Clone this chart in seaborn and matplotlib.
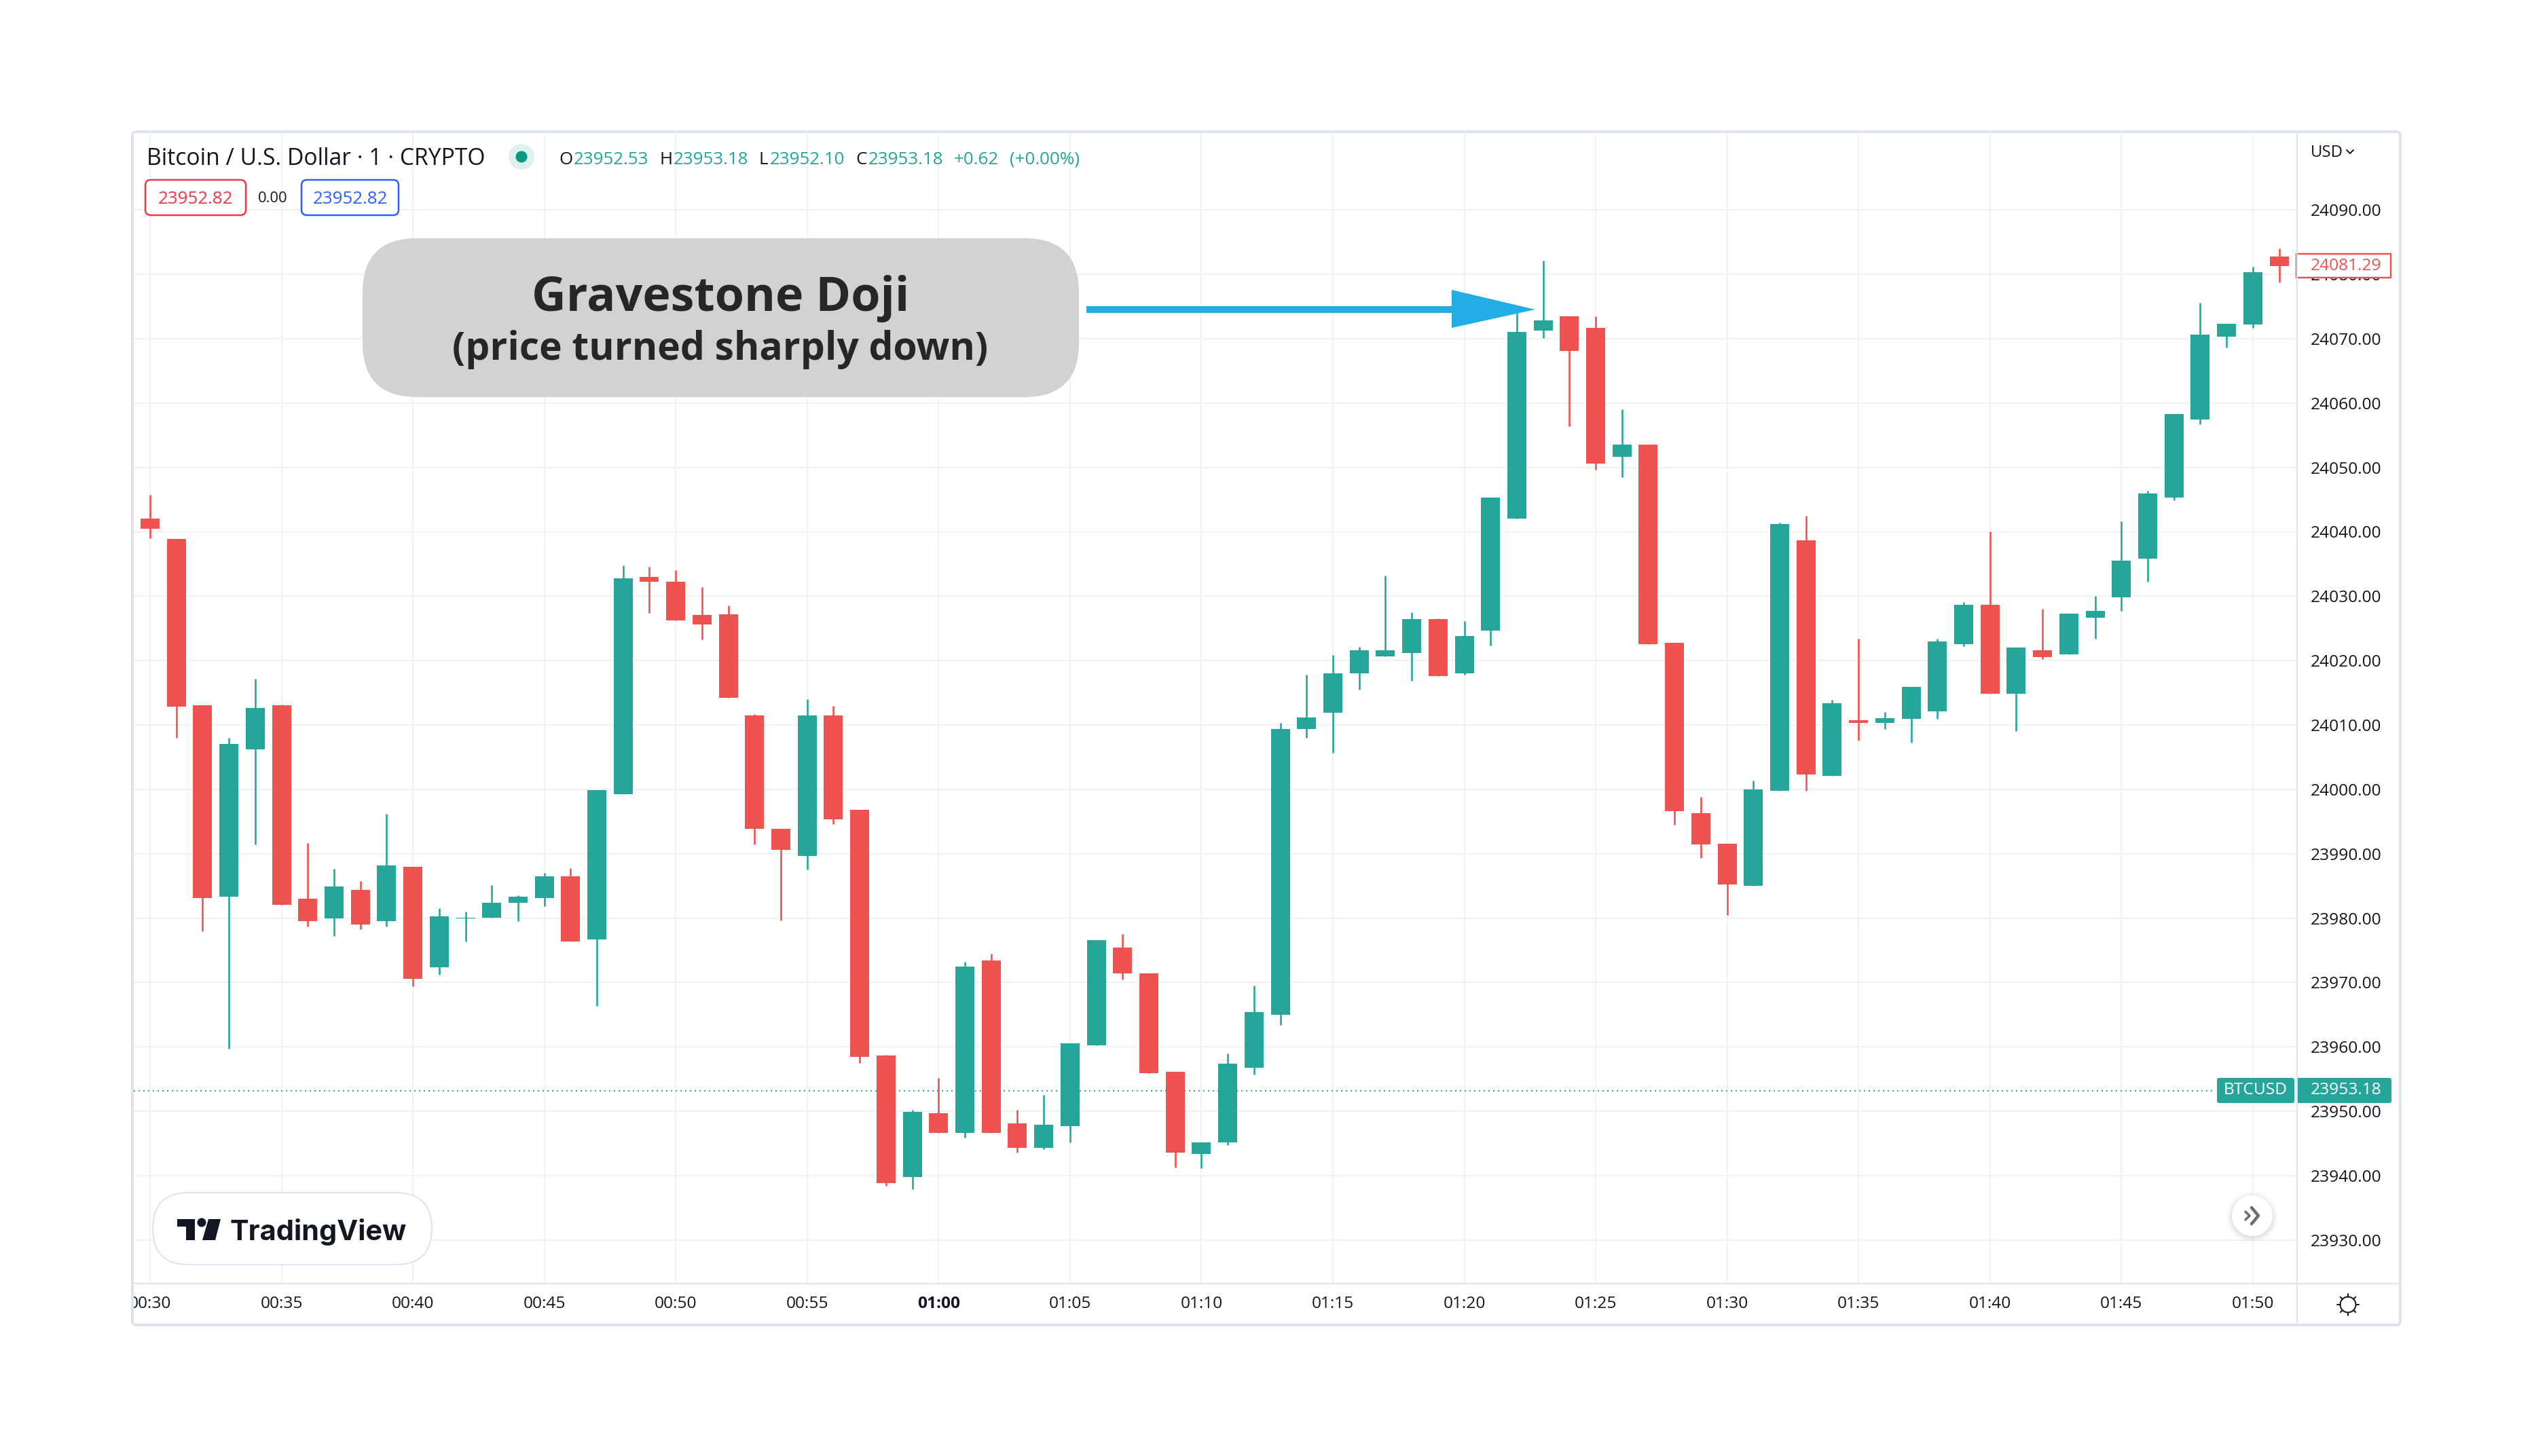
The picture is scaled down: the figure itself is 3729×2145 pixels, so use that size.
"""
Bitcoin 1 minute candlesticks with a Gravestone Doji callout, TradingView look.
"""

import matplotlib
matplotlib.use("Agg")

import matplotlib.pyplot as plt
import numpy as np
import pandas as pd
import seaborn as sns
from matplotlib.patches import Circle, FancyBboxPatch, Polygon, Rectangle
from matplotlib.transforms import ScaledTranslation

WIDTH, HEIGHT = 3729, 2145
GREEN = "#26a69a"
RED = "#ef5350"
INK = "#131722"
PT = 0.72  # one output pixel in points at dpi 100

opens = [
    24042.05, 24038.9, 24013.05, 23983.3, 24006.2, 24013.05, 23983.0, 23979.9, 23984.4, 23979.5,
    23988.0, 23972.4, 23979.9, 23980.1, 23982.4, 23983.1, 23986.5, 23976.7, 23999.2, 24033.0,
    24032.3, 24027.1, 24027.2, 24011.5, 23993.9, 23989.6, 24011.5, 23996.8, 23958.6, 23939.8,
    23949.7, 23946.6, 23973.4, 23948.1, 23944.3, 23947.7, 23960.2, 23975.4, 23971.4, 23956.1,
    23943.4, 23945.2, 23956.8, 23965.0, 24009.4, 24011.9, 24018.0, 24020.6, 24021.2, 24026.4,
    24018.0, 24024.7, 24042.1, 24071.3, 24073.5, 24071.7, 24051.7, 24053.5, 24022.8, 23996.3,
    23991.6, 23985.0, 23999.8, 24038.7, 24002.1, 24010.7, 24010.3, 24010.9, 24012.1, 24022.6,
    24028.7, 24014.8, 24021.6, 24021.0, 24026.7, 24029.8, 24035.8, 24045.3, 24057.4, 24070.3,
    24072.2, 24082.8,
]
highs = [
    24045.7, 24038.9, 24013.05, 24008.0, 24017.2, 24013.2, 23991.7, 23987.6, 23985.7, 23996.2,
    23988.0, 23981.5, 23981.0, 23985.1, 23983.5, 23987.0, 23987.8, 23999.9, 24034.8, 24034.6,
    24034.0, 24031.4, 24028.6, 24011.7, 23993.9, 24014.0, 24013.0, 23996.8, 23958.8, 23950.2,
    23955.2, 23973.2, 23974.5, 23950.2, 23952.5, 23960.6, 23976.6, 23977.5, 23971.4, 23956.1,
    23945.2, 23959.0, 23969.5, 24010.3, 24017.8, 24020.9, 24022.1, 24033.2, 24027.5, 24026.6,
    24026.1, 24045.3, 24074.0, 24082.15, 24073.5, 24073.5, 24059.0, 24053.5, 24022.8, 23998.8,
    23991.6, 24001.4, 24041.4, 24042.5, 24013.9, 24023.4, 24012.0, 24015.9, 24023.4, 24029.1,
    24040.1, 24022.0, 24028.0, 24027.3, 24030.0, 24041.6, 24046.4, 24058.3, 24075.6, 24072.3,
    24081.2, 24084.0,
]
lows = [
    24039.0, 24008.0, 23978.0, 23959.7, 23991.4, 23982.1, 23978.7, 23977.2, 23978.3, 23978.7,
    23969.4, 23971.2, 23976.4, 23980.1, 23979.5, 23981.9, 23976.4, 23966.3, 23999.2, 24027.4,
    24026.2, 24023.3, 24014.2, 23991.4, 23979.6, 23987.5, 23994.6, 23957.5, 23938.4, 23937.9,
    23946.6, 23945.9, 23946.6, 23943.6, 23944.1, 23945.2, 23960.2, 23970.5, 23955.9, 23941.3,
    23941.1, 23944.7, 23955.7, 23963.4, 24008.0, 24005.7, 24015.5, 24020.6, 24016.9, 24017.6,
    24017.8, 24022.3, 24042.1, 24070.1, 24056.4, 24049.6, 24048.5, 24022.6, 23994.5, 23989.3,
    23980.5, 23985.0, 23999.8, 23999.8, 24002.1, 24007.6, 24009.4, 24007.3, 24010.9, 24022.2,
    24014.8, 24009.1, 24020.2, 24021.0, 24023.4, 24027.7, 24032.3, 24044.9, 24056.7, 24068.6,
    24071.7, 24078.8,
]
closes = [
    24040.5, 24012.8, 23983.1, 24007.1, 24012.6, 23982.1, 23979.5, 23984.9, 23979.0, 23988.2,
    23970.6, 23980.3, 23980.1, 23982.4, 23983.3, 23986.5, 23976.4, 23999.9, 24032.75, 24032.3,
    24026.2, 24025.6, 24014.2, 23993.9, 23990.6, 24011.5, 23995.3, 23958.4, 23938.8, 23949.9,
    23946.6, 23972.5, 23946.6, 23944.3, 23947.9, 23960.6, 23976.6, 23971.4, 23955.9, 23943.6,
    23945.2, 23957.4, 23965.4, 24009.4, 24011.2, 24018.0, 24021.6, 24021.6, 24026.4, 24017.6,
    24023.8, 24045.3, 24071.0, 24072.8, 24068.1, 24050.6, 24053.5, 24022.6, 23996.6, 23991.4,
    23985.2, 24000.0, 24041.2, 24002.3, 24013.4, 24010.3, 24011.1, 24015.9, 24023.0, 24028.7,
    24014.8, 24022.0, 24020.5, 24027.3, 24027.7, 24035.5, 24046.0, 24058.3, 24070.6, 24072.3,
    24080.3, 24081.3,
]

time_ticks = list(range(0, 85, 5))
time_labels = [
    "00:30", "00:35", "00:40", "00:45", "00:50", "00:55", "01:00", "01:05", "01:10",
    "01:15", "01:20", "01:25", "01:30", "01:35", "01:40", "01:45", "01:50",
]
price_ticks = list(range(23930, 24100, 10))
last_price = 23953.18

sns.set_theme(style="white")
plt.rcParams["font.family"] = ["Open Sans", "DejaVu Sans"]


def build_frames():
    df = pd.DataFrame({"candle": range(len(opens)), "open": opens, "high": highs,
                       "low": lows, "close": closes})
    df["direction"] = np.where(df["close"] >= df["open"], "up", "down")
    wicks = df.melt(id_vars=["candle", "direction"], value_vars=["high", "low"], value_name="price")
    bodies = df.melt(id_vars=["candle", "direction"], value_vars=["open", "close"], value_name="price")
    return wicks, bodies


def draw_chart(fig):
    left, right, top, bottom = 197, 3383, 197, 1891
    ax = fig.add_axes([left / WIDTH, 1 - bottom / HEIGHT, (right - left) / WIDTH, (bottom - top) / HEIGHT])
    wicks, bodies = build_frames()
    palette = {"up": GREEN, "down": RED}
    ax.axhline(last_price, xmax=(3262 - left) / (right - left), color=GREEN, lw=2 * PT,
               ls=(0, (1, 2.5)), zorder=1.5)
    sns.lineplot(data=wicks, x="candle", y="price", units="candle", hue="direction", palette=palette,
                 estimator=None, legend=False, linewidth=2.6 * PT, solid_capstyle="butt", ax=ax, zorder=3)
    sns.lineplot(data=bodies, x="candle", y="price", units="candle", hue="direction", palette=palette,
                 estimator=None, legend=False, linewidth=28 * PT, solid_capstyle="butt", ax=ax, zorder=4)
    ax.set_xlim((left - 221) / 38.71, (right - 221) / 38.71)
    ax.set_ylim(24090 - (bottom - 309.3) / 9.484, 24090 + (309.3 - top) / 9.484)
    ax.set_xlabel("")
    ax.set_ylabel("")
    ax.yaxis.tick_right()
    ax.set_yticks(price_ticks)
    ax.set_yticklabels([f"{p}.00" for p in price_ticks], fontsize=24.5 * PT, color=INK)
    # price labels sit about 2 px above their grid lines
    lift = ScaledTranslation(0, 2 / 100, fig.dpi_scale_trans)
    for lab in ax.get_yticklabels():
        lab.set_transform(lab.get_transform() + lift)
    ax.set_xticks(time_ticks)
    ax.set_xticklabels(time_labels, fontsize=24.5 * PT, color=INK)
    ax.get_xticklabels()[6].set_fontweight("bold")
    ax.tick_params(axis="y", length=0, pad=20 * PT)
    ax.tick_params(axis="x", length=0, pad=18 * PT)
    ax.grid(True, color="#f0f2f5", linewidth=2 * PT)
    ax.set_axisbelow(True)
    sns.despine(ax=ax, left=True, bottom=True)
    return ax


def draw_header(ov):
    ov.text(216, 234, "Bitcoin / U.S. Dollar · 1 · CRYPTO", fontsize=33.7 * PT, color=INK, va="center")
    ov.add_patch(Circle((768, 231), 19, color="#dff0ee", lw=0))
    ov.add_patch(Circle((768, 231), 8.5, color="#089981", lw=0))
    for x, s, c in [(823, "O", INK), (845, "23952.53", GREEN), (972, "H", INK), (992, "23953.18", GREEN),
                    (1118, "L", INK), (1134, "23952.10", GREEN), (1260, "C", INK), (1279, "23953.18", GREEN),
                    (1405, "+0.62", GREEN), (1487, "(+0.00%)", GREEN)]:
        ov.text(x, 235, s, fontsize=26 * PT, color=c, va="center", fontweight="medium")
    for x0, x1, c in [(214, 362, "#f23645"), (444, 587, "#2962ff")]:
        ov.add_patch(FancyBboxPatch((x0 + 5, 270), x1 - x0 - 10, 42, boxstyle="round,pad=5,rounding_size=8",
                                    fc="white", ec=c, lw=2.5 * PT))
        ov.text((x0 + x1) / 2, 293, "23952.82", fontsize=26 * PT, color=c, ha="center", va="center")
    ov.text(401.5, 293, "0.00", fontsize=22 * PT, color=INK, ha="center", va="center")


def draw_callout(ov):
    ov.add_patch(FancyBboxPatch((614, 431), 895, 74, boxstyle="round,pad=80,rounding_size=80",
                                fc="#d2d2d2", ec="none"))
    ov.text(1061, 440, "Gravestone Doji", fontsize=70 * PT, color="#262626", ha="center", va="center",
            fontweight="bold")
    ov.text(1061, 515, "(price turned sharply down)", fontsize=57 * PT, color="#262626", ha="center",
            va="center", fontweight="bold")
    ov.add_patch(Rectangle((1600, 451), 540, 10, color="#22aee4", lw=0))
    ov.add_patch(Polygon([(2138, 427), (2261, 456), (2138, 483)], closed=True, color="#22aee4", lw=0))


def draw_price_tags(ov):
    ov.add_patch(Rectangle((3382, 374), 139, 35, fc="white", ec=RED, lw=2.5 * PT))
    ov.text(3403, 392, "24081.29", fontsize=24.5 * PT, color=RED, va="center")
    ov.add_patch(FancyBboxPatch((3268, 1591), 108, 31, boxstyle="round,pad=3", fc=GREEN, ec="none"))
    ov.add_patch(FancyBboxPatch((3385, 1591), 134, 31, boxstyle="round,pad=3", fc=GREEN, ec="none"))
    ov.text(3322, 1606, "BTCUSD", fontsize=24.5 * PT, color="white", ha="center", va="center")
    ov.text(3403, 1606, "23953.18", fontsize=24.5 * PT, color="white", va="center")
    ov.text(3403, 225, "USD", fontsize=24 * PT, color=INK, va="center")
    ov.plot([3456, 3461, 3466], [221, 226, 221], color=INK, lw=2 * PT)


def draw_logo(ov):
    ov.add_patch(FancyBboxPatch((278, 1810), 305, 0.1, boxstyle="round,pad=53,rounding_size=53",
                                fc="white", ec="#e0e3eb", lw=2 * PT))
    ov.add_patch(Polygon([(261, 1796), (287, 1796), (287, 1827), (274, 1827), (274, 1807), (261, 1807)],
                         closed=True, color=INK, lw=0))
    ov.add_patch(Circle((297, 1801), 6.5, color=INK, lw=0))
    ov.add_patch(Polygon([(307, 1796), (325, 1796), (317, 1827), (298, 1827)], closed=True, color=INK, lw=0))
    ov.text(338, 1815, "TradingView", fontsize=41.5 * PT, color=INK, va="center", fontweight="bold",
            family=["Inter", "DejaVu Sans"])


def draw_controls(ov):
    # scroll button with soft shadow
    for grow, alpha in [(8, 0.02), (5, 0.03), (2, 0.05)]:
        ov.add_patch(Circle((3317, 1793), 30 + grow, color="black", alpha=alpha, lw=0))
    ov.add_patch(Circle((3317, 1791), 30, color="white", lw=0))
    ov.plot([3307, 3313, 3307], [1785, 1791, 1797], color="#6a6d78", lw=3.5 * PT)
    ov.plot([3316, 3326, 3316], [1779, 1791, 1803], color="#6a6d78", lw=4.5 * PT)
    # settings gear
    ov.add_patch(Circle((3458, 1922), 11.5, fc="none", ec=INK, lw=2 * PT))
    for angle in np.arange(0, 360, 45):
        dx, dy = np.cos(np.radians(angle)), np.sin(np.radians(angle))
        ov.plot([3458 + 11.5 * dx, 3458 + 16 * dx], [1922 + 11.5 * dy, 1922 + 16 * dy], color=INK, lw=2 * PT)


def draw_frame(ov):
    ov.add_patch(Rectangle((175, 1895), 20, 50, color="white", lw=0))
    ov.plot([3383, 3383], [196, 1950], color="#e0e3eb", lw=2 * PT)
    ov.plot([197, 3533], [1891, 1891], color="#e0e3eb", lw=2 * PT)
    ov.add_patch(FancyBboxPatch((203, 202), 3324, 1742, boxstyle="round,pad=8,rounding_size=6",
                                fc="none", ec="#dfe3ee", lw=4 * PT))


def main():
    fig = plt.figure(figsize=(WIDTH / 100, HEIGHT / 100), dpi=100, facecolor="white")
    draw_chart(fig)
    ov = fig.add_axes([0, 0, 1, 1], facecolor="none")
    ov.set_xlim(0, WIDTH)
    ov.set_ylim(HEIGHT, 0)
    ov.axis("off")
    draw_header(ov)
    draw_callout(ov)
    draw_price_tags(ov)
    draw_logo(ov)
    draw_controls(ov)
    draw_frame(ov)
    fig.savefig("out.png", dpi=100)


if __name__ == "__main__":
    main()
